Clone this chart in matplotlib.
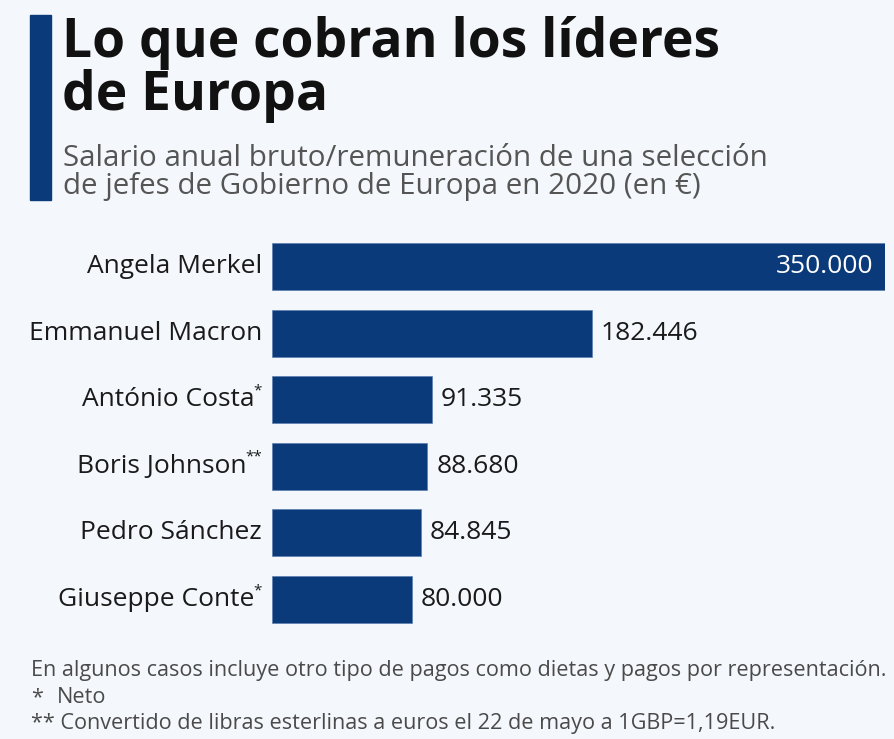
import matplotlib
matplotlib.use("Agg")
import matplotlib.pyplot as plt
from matplotlib import font_manager

names = ["Angela Merkel", "Emmanuel Macron", "António Costa", "Boris Johnson",
         "Pedro Sánchez", "Giuseppe Conte"]
marks = ["", "", "*", "**", "", "*"]
values = [350000, 182446, 91335, 88680, 84845, 80000]
value_labels = ["350.000", "182.446", "91.335", "88.680", "84.845", "80.000"]

title_lines = ["Lo que cobran los líderes", "de Europa"]
subtitle_lines = ["Salario anual bruto/remuneración de una selección",
                  "de jefes de Gobierno de Europa en 2020 (en €)"]
footer_lines = ["En algunos casos incluye otro tipo de pagos como dietas y pagos por representación.",
                "Neto",
                "** Convertido de libras esterlinas a euros el 22 de mayo a 1GBP=1,19EUR."]

W, H = 895, 739
BG = "#f4f7fb"
BLUE = "#0b3a7b"
FONT = "Open Sans"

plt.rcParams['font.family'] = [FONT, 'DejaVu Sans']

fig = plt.figure(figsize=(W / 100, H / 100), dpi=100, facecolor=BG)

def fx(x):
    return x / W

def fy(y):
    return 1 - y / H

# accent bar
fig.patches.append(plt.Rectangle((fx(30), fy(200)), fx(51) - fx(30), fy(15) - fy(200),
                                 transform=fig.transFigure, color=BLUE, zorder=1))

# title
fig.text(fx(62), fy(57), title_lines[0], fontsize=38.4, fontweight='bold', color='#111111',
         va='baseline', ha='left')
fig.text(fx(62), fy(110), title_lines[1], fontsize=38.4, fontweight='bold', color='#111111',
         va='baseline', ha='left')
fig.text(fx(63), fy(166), subtitle_lines[0], fontsize=21.3, color='#555555', va='baseline')
fig.text(fx(63), fy(194), subtitle_lines[1], fontsize=21.3, color='#555555', va='baseline')

# axes
left, right = 272, 885
top, bottom = 233.2, 632.8
ax = fig.add_axes([fx(left), fy(bottom), fx(right) - fx(left), fy(top) - fy(bottom)])
ax.set_facecolor('none')
ypos = list(range(len(names)))
ax.barh(ypos, values, height=0.705, color=BLUE, edgecolor='#5a7fb0', linewidth=0.5)
ax.set_xlim(0, 350000)
ax.set_ylim(len(names) - 0.5, -0.5)
ax.axis('off')

fig.canvas.draw()
r = fig.canvas.get_renderer()

for i, (v, lab) in enumerate(zip(values, value_labels)):
    if i == 0:
        ax.annotate(lab, (v, i), xytext=(-12, 0), textcoords='offset pixels',
                    ha='right', va='center', fontsize=19, color='white')
    else:
        ax.annotate(lab, (v, i), xytext=(9, 0), textcoords='offset pixels',
                    ha='left', va='center', fontsize=19, color='#1a1a1a')

# name labels with superscript marks
for i, (n, m) in enumerate(zip(names, marks)):
    xr = -10  # pixels left of bar start
    if m:
        t = ax.annotate(m, (0, i), xytext=(xr, 9), textcoords='offset pixels',
                        ha='right', va='center', fontsize=11, color='#1a1a1a')
        bb = t.get_window_extent(r)
        xr -= bb.width - 1
    ax.annotate(n, (0, i), xytext=(xr, 0), textcoords='offset pixels',
                ha='right', va='center', fontsize=19, color='#1a1a1a')

# footer
FS = 15.6
fig.text(fx(31), fy(676), footer_lines[0], fontsize=FS, color='#4a4a4a', va='baseline')
fig.text(fx(31), fy(703), "*", fontsize=FS, color='#4a4a4a', va='baseline')
fig.text(fx(57), fy(703), footer_lines[1], fontsize=FS, color='#4a4a4a', va='baseline')
fig.text(fx(31), fy(729), footer_lines[2], fontsize=FS, color='#4a4a4a', va='baseline')

fig.savefig("out.png", dpi=100, facecolor=BG)
